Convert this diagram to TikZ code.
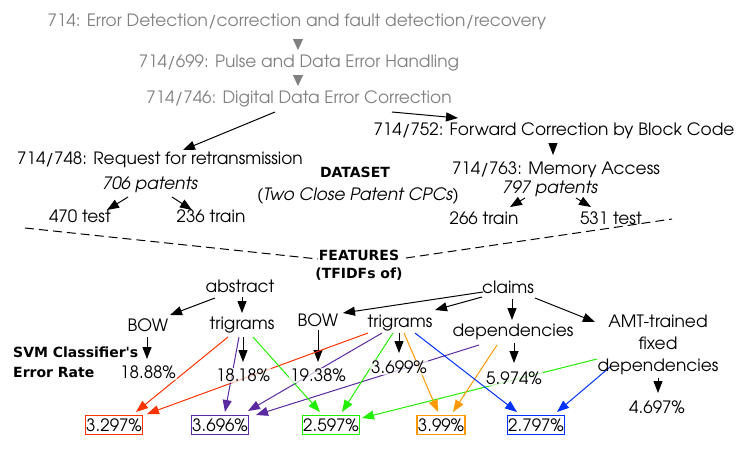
\documentclass[tikz,border=0pt]{standalone}
\usepackage{fontspec}
\setmainfont{TeX Gyre Adventor}
\newfontfamily\boldfam{DejaVu Sans}
\usetikzlibrary{arrows.meta,backgrounds}
\definecolor{cgray}{HTML}{808080}
\definecolor{cred}{HTML}{FF3300}
\definecolor{cpurple}{HTML}{5B2AA0}
\definecolor{cgreen}{HTML}{22EE00}
\definecolor{corange}{HTML}{FF9900}
\definecolor{cblue}{HTML}{0033FF}
\begin{document}
\begin{tikzpicture}[x=1pt,y=-1pt,
  every node/.style={font=\fontsize{17}{20}\selectfont, inner sep=1pt},
  arr/.style={-{Triangle[length=12pt,width=9pt]}, line width=1pt},
  garr/.style={-{Triangle[length=11pt,width=10pt]}, cgray, line width=0.9pt},
  lbl/.style={fill=white, fill opacity=0.7, text opacity=1},
  ttl/.style={text=cgray},
  bld/.style={font=\boldfam\bfseries\fontsize{14}{18}\selectfont},
  itl/.style={font=\itshape\fontsize{17}{20}\selectfont},
  rbox/.style={draw, line width=1.2pt, inner xsep=1pt, inner ysep=3pt},
  dashln/.style={dashed, dash pattern=on 9pt off 5pt, line width=1pt}]
\useasboundingbox (0,0) rectangle (747,453);
% titles
\node[ttl] (t1) at (297,22) {714: Error Detection/correction and fault detection/recovery};
\node[ttl] (t2) at (299,63) {714/699: Pulse and Data Error Handling};
\node[ttl] (t3) at (299,99) {714/746: Digital Data Error Correction};
\node (t752) at (554,131) {714/752: Forward Correction by Block Code};
\node (t763) at (556,170) {714/763: Memory Access};
\node[itl] (p797) at (550,189) {797 patents};
\node (tr266) at (484,218) {266 train};
\node (te531) at (611,218) {531 test};
\node (t748) at (160,160) {714/748: Request for retransmission};
\node[itl] (p706) at (150,185) {706 patents};
\node (te470) at (80,216) {470 test};
\node (tr236) at (211,216) {236 train};
\node[bld] (dataset) at (355,172) {DATASET};
\node[itl] (twoclose) at (358,196) {(Two Close Patent CPCs)};
\node[bld, align=center] (features) at (359,265) {FEATURES\\(TFIDFs of)};
\coordinate (dl) at (25,228);
\coordinate (dr) at (672,219);
% features
\node (abstract) at (240,286) {abstract};
\node (bowL) at (148,325) {BOW};
\node (triL) at (242,325) {trigrams};
\node[bld, anchor=west, align=left, font=\boldfam\bfseries\fontsize{14}{20}\selectfont] (svm) at (12,362) {SVM Classifier's\\Error Rate};
\node[lbl] (r1888) at (148,372) {18.88\%};
\node[lbl] (r1818) at (243,375) {18.18\%};
\node[lbl] (r1938) at (318,375) {19.38\%};
\node (claims) at (508,287) {claims};
\node (bowM) at (318,320) {BOW};
\node (triM) at (400,323) {trigrams};
\node[lbl] (r3699) at (399,367) {3.699\%};
\node[lbl] (deps) at (513,332) {dependencies};
\node[lbl] (r5974) at (514,378) {5.974\%};
\node[align=center, font=\fontsize{17}{22}\selectfont] (amt) at (658,345) {AMT-trained\\fixed\\dependencies};
\node[lbl] (r4697) at (657,407) {4.697\%};
\node[rbox, draw=cred] (b1) at (114,425) {3.297\%};
\node[rbox, draw=cpurple] (b2) at (220,425) {3.696\%};
\node[rbox, draw=cgreen] (b3) at (331,425) {2.597\%};
\node[rbox, draw=corange] (b4) at (441,425) {3.99\%};
\node[rbox, draw=cblue] (b5) at (536,425) {2.797\%};
\begin{scope}[on background layer]
\draw[garr] ([shift={(1,17)}]t1.center) -- ([shift={(-1,-13)}]t2.center);
\draw[garr] ([shift={(-1,12)}]t2.center) -- ([shift={(-1,-13)}]t3.center);
\draw[dashln] (dl) -- ([shift={(-41,-6)}]features.center);
\draw[dashln] ([shift={(47,-7)}]features.center) -- (dr);
\draw[arr] ([shift={(-24,13)}]t3.center) -- ([shift={(23,-10)}]t748.center);
\draw[arr] ([shift={(93,13)}]t3.center) -- ([shift={(-96,-13)}]t752.center);
\draw[arr] ([shift={(-1,13)}]t752.center) -- ([shift={(-3,-15)}]t763.center);
\draw[arr] ([shift={(-25,9)}]p797.center) -- ([shift={(26,-11)}]tr266.center);
\draw[arr] ([shift={(26,9)}]p797.center) -- ([shift={(-20,-11)}]te531.center);
\draw[arr] ([shift={(-22,12)}]p706.center) -- ([shift={(27,-6)}]te470.center);
\draw[arr] ([shift={(22,12)}]p706.center) -- ([shift={(-19,-6)}]tr236.center);
\draw[arr] ([shift={(-25,12)}]abstract.center) -- ([shift={(22,-10)}]bowL.center);
\draw[arr] ([shift={(2,11)}]abstract.center) -- ([shift={(0,-12)}]triL.center);
\draw[arr] ([shift={(-1,12)}]bowL.center) -- ([shift={(-1,-13)}]r1888.center);
\draw[arr] ([shift={(1,12)}]triL.center) -- ([shift={(0,-13)}]r1818.center);
\draw[arr] ([shift={(0,10)}]bowM.center) -- ([shift={(0,-13)}]r1938.center);
\draw[arr] ([shift={(-25,5)}]claims.center) -- ([shift={(25,-7)}]bowM.center);
\draw[arr] ([shift={(-26,10)}]claims.center) -- ([shift={(35,-13)}]triM.center);
\draw[arr] ([shift={(4,12)}]claims.center) -- ([shift={(-1,-12)}]deps.center);
\draw[arr] ([shift={(27,11)}]claims.center) -- ([shift={(-63,-23)}]amt.center);
\draw[arr] ([shift={(-1,10)}]triM.center) -- ([shift={(0,-14)}]r3699.center);
\draw[arr] ([shift={(1,11)}]deps.center) -- ([shift={(0,-15)}]r5974.center);
\draw[arr] ([shift={(0,33)}]amt.center) -- ([shift={(1,-14)}]r4697.center);
% coloured
\draw[arr, cred] ([shift={(-14,12)}]triL.center) -- ([shift={(22,-13)}]b1.center);
\draw[arr, cred] ([shift={(-32,10)}]triM.center) -- ([shift={(33,-11)}]b1.center);
\draw[arr, cpurple] ([shift={(-3,12)}]triL.center) -- ([shift={(5,-13)}]b2.center);
\draw[arr, cpurple] ([shift={(-18,10)}]triM.center) -- ([shift={(28,-14)}]b2.center);
\draw[arr, cpurple] ([shift={(-34,13)}]deps.center) -- ([shift={(36,-10)}]b2.center);
\draw[arr, cgreen] ([shift={(11,12)}]triL.center) -- ([shift={(-11,-13)}]b3.center);
\draw[arr, cgreen] ([shift={(-7,10)}]triM.center) -- ([shift={(11,-13)}]b3.center);
\draw[arr, cgreen] ([shift={(-61,14)}]amt.center) -- ([shift={(31,-7)}]b3.center);
\draw[arr, corange] ([shift={(4,10)}]triM.center) -- ([shift={(-3,-13)}]b4.center);
\draw[arr, corange] ([shift={(-16,13)}]deps.center) -- ([shift={(12,-13)}]b4.center);
\draw[arr, cblue] ([shift={(15,10)}]triM.center) -- ([shift={(-19,-13)}]b5.center);
\draw[arr, cblue] ([shift={(-48,22)}]amt.center) -- ([shift={(21,-13)}]b5.center);
\end{scope}
\end{tikzpicture}
\end{document}
